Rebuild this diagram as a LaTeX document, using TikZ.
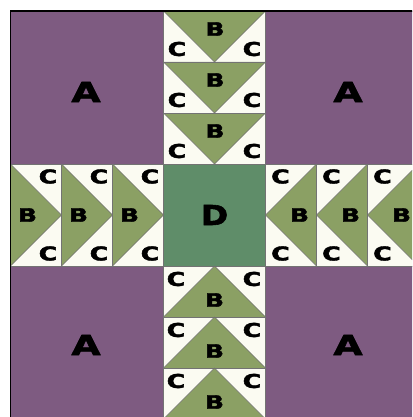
\documentclass[tikz,border=0pt]{standalone}
\usepackage{fontspec}
\setmainfont{DejaVu Sans}[BoldFeatures={FakeBold=2}]
\definecolor{purp}{RGB}{126,91,129}
\definecolor{goose}{RGB}{139,160,100}
\definecolor{dgreen}{RGB}{95,141,105}
\definecolor{cream}{RGB}{251,251,242}
\begin{document}
\begin{tikzpicture}[x=1pt,y=-1pt,
  seam/.style={draw=black!55,line width=0.6pt},
  clab/.style={font=\bfseries\fontsize{19}{19}\selectfont,xscale=1.33,inner sep=0pt},
  blab/.style={font=\bfseries\fontsize{18.5}{18.5}\selectfont,xscale=1.35,inner sep=0pt},
  alab/.style={font=\bfseries\fontsize{27.5}{27.5}\selectfont,xscale=1.37,inner sep=0pt},
  dlab/.style={font=\bfseries\fontsize{27.5}{27.5}\selectfont,xscale=1.2,inner sep=0pt}]
\useasboundingbox (0,0) rectangle (412,417);
\fill[white] (0,0) rectangle (412,417);
\begin{scope}
\clip (0,0) rectangle (412,417);
% A squares
\fill[purp] (10.5,11) rectangle (163.5,164);
\fill[purp] (265.5,11) rectangle (418.5,164);
\fill[purp] (10.5,266) rectangle (163.5,419);
\fill[purp] (265.5,266) rectangle (418.5,419);
\draw[seam] (10.5,11) rectangle (163.5,164);
\draw[seam] (265.5,11) rectangle (418.5,164);
\draw[seam] (10.5,266) rectangle (163.5,419);
\draw[seam] (265.5,266) rectangle (418.5,419);
% D square
\fill[dgreen] (163.5,164) rectangle (265.5,266);
\draw[seam] (163.5,164) rectangle (265.5,266);
% top geese (pointing down)
\foreach \k in {0,1,2}{
  \pgfmathsetmacro{\yo}{11+51*\k}
  \fill[cream] (163.5,\yo) rectangle (265.5,\yo+51);
  \fill[goose] (163.5,\yo) -- (265.5,\yo) -- (214.5,\yo+51) -- cycle;
  \draw[seam] (163.5,\yo) -- (214.5,\yo+51) -- (265.5,\yo);
  \draw[seam] (163.5,\yo) rectangle (265.5,\yo+51);
  \node[blab] (tB\k) at (215,\yo+18) {B};
  \node[clab] (tCl\k) at (177,\yo+38) {C};
  \node[clab] (tCr\k) at (252,\yo+38) {C};
}
% bottom geese (pointing up)
\foreach \k in {0,1,2}{
  \pgfmathsetmacro{\yo}{266+51*\k}
  \fill[cream] (163.5,\yo) rectangle (265.5,\yo+51);
  \fill[goose] (163.5,\yo+51) -- (265.5,\yo+51) -- (214.5,\yo) -- cycle;
  \draw[seam] (163.5,\yo+51) -- (214.5,\yo) -- (265.5,\yo+51);
  \draw[seam] (163.5,\yo) rectangle (265.5,\yo+51);
  \node[blab] (bB\k) at (214.5,\yo+34) {B};
  \node[clab] (bCl\k) at (176,\yo+13) {C};
  \node[clab] (bCr\k) at (252,\yo+13) {C};
}
% left geese (pointing right)
\foreach \k in {0,1,2}{
  \pgfmathsetmacro{\xo}{10.5+51*\k}
  \fill[cream] (\xo,164) rectangle (\xo+51,266);
  \fill[goose] (\xo,164) -- (\xo,266) -- (\xo+51,215) -- cycle;
  \draw[seam] (\xo,164) -- (\xo+51,215) -- (\xo,266);
  \draw[seam] (\xo,164) rectangle (\xo+51,266);
  \node[blab] (lB\k) at (\xo+17,215) {B};
  \node[clab] (lCt\k) at (\xo+37.5,176.5) {C};
  \node[clab] (lCb\k) at (\xo+37.5,253.5) {C};
}
% right geese (pointing left)
\foreach \k in {0,1,2}{
  \pgfmathsetmacro{\xo}{265.5+51*\k}
  \fill[cream] (\xo,164) rectangle (\xo+51,266);
  \fill[goose] (\xo+51,164) -- (\xo+51,266) -- (\xo,215) -- cycle;
  \draw[seam] (\xo+51,164) -- (\xo,215) -- (\xo+51,266);
  \draw[seam] (\xo,164) rectangle (\xo+51,266);
  \node[blab] (rB\k) at (\xo+34,215) {B};
  \node[clab] (rCt\k) at (\xo+15,176.5) {C};
  \node[clab] (rCb\k) at (\xo+15,253.5) {C};
}
% labels
\node[alab] (A1) at (86,92) {A};
\node[alab] (A2) at (348,92) {A};
\node[alab] (A3) at (86,345) {A};
\node[alab] (A4) at (348,345) {A};
\node[dlab] (D) at (214.5,215) {D};
% outer border
\draw[black,line width=1.3pt] (10.5,11) rectangle (418.5,419);
\end{scope}
\end{tikzpicture}
\end{document}
